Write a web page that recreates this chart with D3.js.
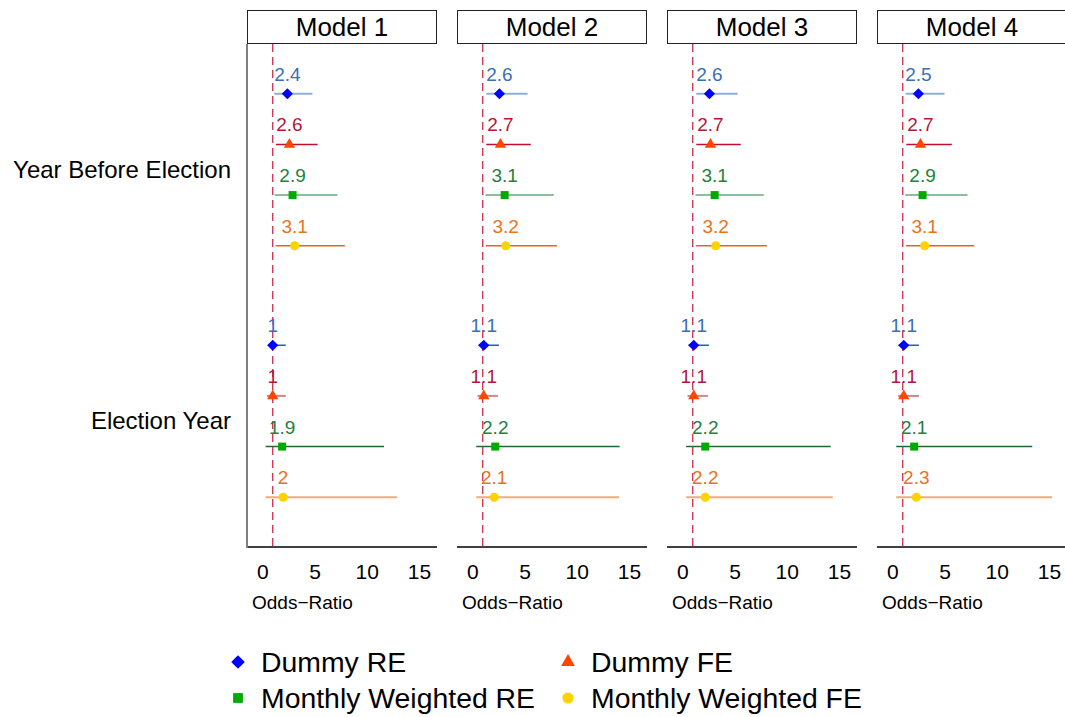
<!DOCTYPE html>
<html>
<head>
<meta charset="utf-8">
<script src="https://cdn.jsdelivr.net/npm/d3@7"></script>
<style>
  html, body { margin: 0; padding: 0; background: #fff; }
  svg { display: block; font-family: "Liberation Sans", Arial, Helvetica, sans-serif; }
</style>
</head>
<body>
<svg id="chart" width="1065" height="717"></svg>
<script>
// ---- data -------------------------------------------------------------
const models  = ["Model 1", "Model 2", "Model 3", "Model 4"];
const periods = ["Year Before Election", "Election Year"];
const series  = ["Dummy RE", "Dummy FE", "Monthly Weighted RE", "Monthly Weighted FE"];
const xTicks  = [0, 5, 10, 15];
const refLine = 1;

// odds-ratio estimates: [model][period][series]
const estimate = [
  [[2.4, 2.6, 2.9, 3.1], [1.0, 1.0, 1.9, 2.0]],
  [[2.6, 2.7, 3.1, 3.2], [1.1, 1.1, 2.2, 2.1]],
  [[2.6, 2.7, 3.1, 3.2], [1.1, 1.1, 2.2, 2.2]],
  [[2.5, 2.7, 2.9, 3.1], [1.1, 1.1, 2.1, 2.3]]
];
// lower confidence bounds
const lower = [
  [[1.15, 1.30, 1.18, 1.27], [0.55, 0.45, 0.32, 0.32]],
  [[1.34, 1.34, 1.27, 1.30], [0.60, 0.50, 0.38, 0.38]],
  [[1.34, 1.34, 1.27, 1.30], [0.60, 0.50, 0.38, 0.38]],
  [[1.28, 1.34, 1.24, 1.30], [0.60, 0.54, 0.38, 0.38]]
];
// upper confidence bounds
const upper = [
  [[4.8, 5.3, 7.2, 7.9], [2.25, 2.25, 11.65, 12.9]],
  [[5.3, 5.6, 7.8, 8.1], [2.55, 2.45, 14.1, 14.05]],
  [[5.3, 5.6, 7.8, 8.1], [2.55, 2.45, 14.2, 14.4]],
  [[5.0, 5.7, 7.2, 7.85], [2.55, 2.55, 13.4, 15.3]]
];

// ---- styles -----------------------------------------------------------
const pointColor = ["#0000ff", "#ff4500", "#00aa00", "#ffd200"];
const labelColor = ["#3a6fb5", "#b3173a", "#25803d", "#e8731f"];
const lineColor  = [
  ["#8db0da", "#c01030", "#8cbf9c", "#e0661a"],   // year before election
  ["#1f5fbf", "#d8808f", "#1d6b31", "#f2aa78"]    // election year
];
const lineWidth  = [
  [2, 1.5, 2, 1.5],
  [1.5, 2, 1.5, 2]
];
const symbolFor = [
  { type: d3.symbolSquare,   size: 62, rotate: 45 },
  { type: d3.symbolTriangle, size: 55, rotate: 0 },
  { type: d3.symbolSquare,   size: 64, rotate: 0 },
  { type: d3.symbolCircle,   size: 66, rotate: 0 }
];

// ---- layout -----------------------------------------------------------
const svg = d3.select("#chart");
const panelTop = 44, panelBottom = 547;
const stripTop = 10;
const panelWidth = 190, panelStep = 210, firstLeft = 247;
const panelLeft = m => firstLeft + models.indexOf(m) * panelStep;

const yPeriod = d3.scaleBand().domain(periods).range([panelTop, panelBottom]);
const ySeries = d3.scalePoint().domain(series).range([-76, 76]);
const yPos = (p, s) => yPeriod(p) + yPeriod.bandwidth() / 2 + ySeries(s);

const fmt = v => String(+v.toFixed(1));

// row labels
svg.append("g").selectAll("text").data(periods).join("text")
  .attr("x", 231)
  .attr("y", p => yPeriod(p) + yPeriod.bandwidth() / 2 + 8)
  .attr("text-anchor", "end")
  .attr("font-size", 24)
  .attr("fill", "#000")
  .text(p => p);

models.forEach((m, mi) => {
  const left = panelLeft(m);
  const x = d3.scaleLinear().domain([-1.46, 16.72]).range([left, left + panelWidth]);
  const g = svg.append("g");

  // strip
  g.append("rect")
    .attr("x", left + 0.5).attr("y", stripTop + 0.5)
    .attr("width", panelWidth - 1).attr("height", panelTop - stripTop - 1)
    .attr("fill", "#fff").attr("stroke", "#222").attr("stroke-width", 1);
  g.append("text")
    .attr("x", left + panelWidth / 2).attr("y", stripTop + 26)
    .attr("text-anchor", "middle").attr("font-size", 26).attr("fill", "#000")
    .text(m);

  // reference line at odds ratio 1
  g.append("line")
    .attr("x1", x(refLine)).attr("x2", x(refLine))
    .attr("y1", panelTop).attr("y2", panelBottom)
    .attr("stroke", "#d23a58").attr("stroke-width", 1.4)
    .attr("stroke-dasharray", "8,5");

  // bottom axis
  const axis = d3.axisBottom(x).tickValues(xTicks).tickSize(0).tickPadding(0).tickFormat(d3.format("d"));
  const ax = g.append("g").attr("transform", `translate(0,${panelBottom})`).call(axis);
  ax.select(".domain").attr("stroke", "#000").attr("stroke-width", 1.6)
    .attr("d", `M${left},0H${left + panelWidth}`);
  ax.selectAll(".tick text")
    .attr("y", 32).attr("dy", null)
    .attr("font-size", 21).attr("fill", "#000")
    .attr("font-family", "Liberation Sans, Arial, sans-serif");

  g.append("text")
    .attr("x", left + 5).attr("y", 609)
    .attr("font-size", 19).attr("fill", "#000")
    .text("Odds\u2212Ratio");

  // left frame on first panel
  if (mi === 0) {
    g.append("line")
      .attr("x1", left).attr("x2", left)
      .attr("y1", panelTop).attr("y2", panelBottom + 1)
      .attr("stroke", "#7f7f7f").attr("stroke-width", 2);
  }

  // intervals, points and labels
  periods.forEach((p, pi) => {
    series.forEach((s, si) => {
      const y = yPos(p, s);
      const est = estimate[mi][pi][si];
      g.append("line")
        .attr("x1", x(lower[mi][pi][si])).attr("x2", x(upper[mi][pi][si]))
        .attr("y1", y).attr("y2", y)
        .attr("stroke", lineColor[pi][si]).attr("stroke-width", lineWidth[pi][si]);
      const sym = symbolFor[si];
      g.append("path")
        .attr("d", d3.symbol().type(sym.type).size(sym.size)())
        .attr("transform", `translate(${x(est)},${y}) rotate(${sym.rotate})`)
        .attr("fill", pointColor[si]);
      g.append("text")
        .attr("x", x(est)).attr("y", y - 13)
        .attr("text-anchor", "middle").attr("font-size", 19)
        .attr("fill", labelColor[si])
        .text(fmt(est));
    });
  });
});

// ---- legend -----------------------------------------------------------
const legendCol = d3.scaleOrdinal().domain([0, 1]).range([238, 568]);
const legendRow = d3.scaleOrdinal().domain([0, 1]).range([662, 698]);
const legend = svg.append("g");
series.forEach((s, si) => {
  const cx = legendCol(si % 2), cy = legendRow(Math.floor(si / 2));
  const sym = symbolFor[si];
  legend.append("path")
    .attr("d", d3.symbol().type(sym.type).size(sym.size * 1.5)())
    .attr("transform", `translate(${cx},${cy}) rotate(${sym.rotate})`)
    .attr("fill", pointColor[si]);
  legend.append("text")
    .attr("x", cx + 23).attr("y", cy + 10)
    .attr("font-size", 28.4).attr("fill", "#000")
    .text(s);
});
</script>
</body>
</html>
